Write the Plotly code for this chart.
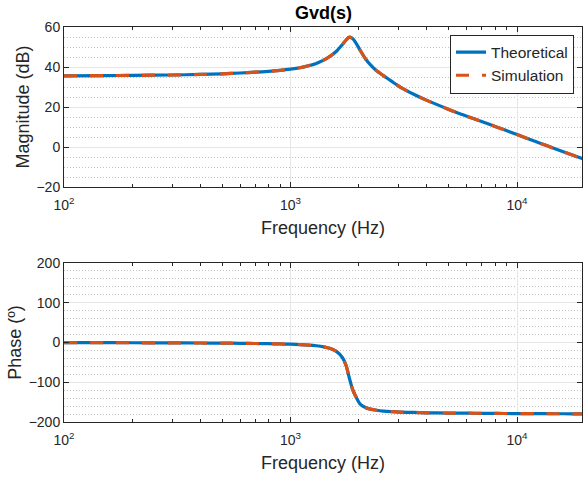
import plotly.graph_objects as go

# Frequency response of Gvd(s): theoretical model vs. simulated sweep
freq_hz = [100, 150, 200, 300, 400, 500, 600, 700, 800, 900, 1000, 1100, 1200,
           1300, 1400, 1500, 1600, 1700, 1760, 1820, 1880, 1950, 2030, 2150,
           2250, 2400, 2570, 2800, 3050, 3500, 4000, 5000, 5600, 6500, 7600,
           8800, 10000, 12000, 13500, 16000, 19400, 20000]

theo_mag_db = [35.6, 35.7, 35.8, 36.0, 36.3, 36.6, 37.0, 37.4, 37.8, 38.3, 38.9,
               39.6, 40.6, 41.8, 43.4, 45.5, 48.0, 51.4, 53.5, 54.9, 54.2, 51.8,
               48.4, 43.9, 41.2, 38.1, 35.7, 32.8, 30.0, 26.4, 23.3, 18.8, 16.6,
               14.0, 11.2, 8.6, 6.2, 2.9, 0.7, -2.4, -5.8, -6.3]

theo_phase_deg = [-0.3, -0.4, -0.6, -1.0, -1.3, -1.6, -2.0, -2.5, -3.0, -3.6, -4.3,
                  -5.2, -6.4, -8.2, -10.9, -15.3, -23.0, -39.0, -58.0, -90.0,
                  -118.0, -138.0, -155.0, -164.0, -167.5, -170.5, -172.5, -174.0,
                  -175.0, -176.0, -176.8, -177.5, -177.8, -178.0, -178.3, -178.6,
                  -178.8, -179.0, -179.1, -179.3, -179.4, -179.4]

sim_mag_db = [35.6, 35.7, 35.8, 36.0, 36.3, 36.6, 37.0, 37.4, 37.8, 38.3, 38.9,
              39.6, 40.6, 41.8, 43.4, 45.5, 48.0, 51.4, 53.5, 54.9, 54.2, 51.8,
              48.4, 43.9, 41.2, 38.1, 35.7, 32.8, 30.0, 26.4, 23.3, 18.8, 16.6,
              14.0, 11.2, 8.6, 6.2, 2.9, 0.7, -2.4, -5.8, -6.3]

sim_phase_deg = [-0.3, -0.4, -0.6, -1.0, -1.3, -1.6, -2.0, -2.5, -3.0, -3.6, -4.3,
                 -5.2, -6.4, -8.2, -10.9, -15.3, -23.0, -39.0, -58.0, -90.0,
                 -118.0, -138.0, -155.0, -164.0, -167.5, -170.5, -172.5, -174.0,
                 -175.0, -176.0, -176.8, -177.5, -177.8, -178.0, -178.3, -178.6,
                 -178.8, -179.0, -179.1, -179.3, -179.4, -179.4]

series_names = ["Theoretical", "Simulation"]
title_text = "Gvd(s)"
mag_label = "Magnitude (dB)"
phase_label = "Phase (º)"
freq_label = "Frequency (Hz)"
decade_vals = [100, 1000, 10000]
decade_text = ["10<sup>2</sup>", "10<sup>3</sup>", "10<sup>4</sup>"]
minor_vals = [m * d for d in (100, 1000, 10000) for m in range(2, 10)]

BLUE = "#0072BD"
ORANGE = "#D95319"
AX = "#262626"
FONT = "Liberation Sans, Arial, sans-serif"
SOLID = dict(color=BLUE, width=3.2, shape="spline", smoothing=0.6)
DASHED = dict(color=ORANGE, width=3.2, dash="13px,13px", shape="spline", smoothing=0.6)

fig = go.Figure()

fig.add_trace(go.Scatter(x=freq_hz, y=theo_mag_db, name=series_names[0],
                         mode="lines", line=SOLID, xaxis="x", yaxis="y"))
fig.add_trace(go.Scatter(x=freq_hz, y=sim_mag_db, name=series_names[1],
                         mode="lines", line=DASHED, xaxis="x", yaxis="y"))
fig.add_trace(go.Scatter(x=freq_hz, y=theo_phase_deg, name=series_names[0],
                         mode="lines", line=SOLID, xaxis="x2", yaxis="y2", showlegend=False))
fig.add_trace(go.Scatter(x=freq_hz, y=sim_phase_deg, name=series_names[1],
                         mode="lines", line=DASHED, xaxis="x2", yaxis="y2", showlegend=False))

xcommon = dict(
    type="log", range=[2, 4.287], tickvals=decade_vals, ticktext=decade_text,
    ticks="inside", ticklen=5, tickcolor=AX, tickwidth=1,
    showline=True, linecolor=AX, linewidth=1, mirror="allticks",
    showgrid=True, gridcolor="#e6e6e6", gridwidth=1, zeroline=False,
    tickfont=dict(family=FONT, size=14, color=AX), ticklabelstandoff=5,
    minor=dict(tickvals=minor_vals, ticks="inside", ticklen=3, tickcolor=AX, showgrid=False),
    title=dict(text=freq_label, font=dict(family=FONT, size=18, color=AX), standoff=9),
)
ycommon = dict(
    ticks="inside", ticklen=5, tickcolor=AX, tickwidth=1,
    showline=True, linecolor=AX, linewidth=1, mirror="allticks",
    showgrid=True, gridcolor="#e6e6e6", gridwidth=1, zeroline=False,
    tickfont=dict(family=FONT, size=14, color=AX),
)
minor_grid = dict(showgrid=True, griddash="1px,2px", gridcolor="#c4c4c4", ticks="")

fig.update_layout(
    width=583, height=478,
    margin=dict(l=64, r=1, t=27, b=56),
    paper_bgcolor="white", plot_bgcolor="white",
    font=dict(family=FONT, color=AX),
    showlegend=True,
    xaxis=dict(xcommon, anchor="y"),
    xaxis2=dict(xcommon, anchor="y2"),
    yaxis=dict(ycommon, domain=[0.5949, 1.0], range=[-20, 60], dtick=20,
               minor=dict(minor_grid, dtick=5),
               title=dict(text=mag_label, font=dict(family=FONT, size=18, color=AX), standoff=2)),
    yaxis2=dict(ycommon, domain=[0.0, 0.4025], range=[-200, 200], dtick=100,
                minor=dict(minor_grid, dtick=20),
                title=dict(text=phase_label, font=dict(family=FONT, size=18, color=AX), standoff=2)),
    legend=dict(x=0.9846, y=0.981, xanchor="right", yanchor="top",
                bgcolor="white", bordercolor=AX, borderwidth=1,
                font=dict(family=FONT, size=15.5, color=AX), tracegroupgap=0),
    annotations=[dict(text="<b>" + title_text + "</b>", x=0.5, y=1.0, xref="paper", yref="paper",
                      xanchor="center", yanchor="bottom", yshift=2, showarrow=False,
                      font=dict(family=FONT, size=18, color="#000000"))],
)

fig.write_html("out.html")
